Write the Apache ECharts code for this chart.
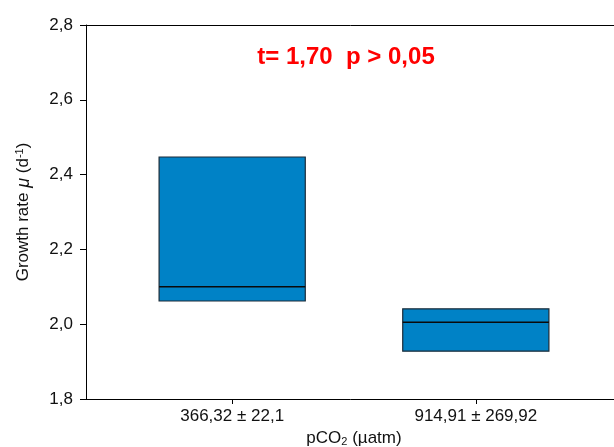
<!DOCTYPE html>
<html>
<head>
<meta charset="utf-8">
<script src="https://cdn.jsdelivr.net/npm/echarts@6/dist/echarts.min.js"></script>
<style>html,body{margin:0;padding:0;background:#fff}#c{width:614px;height:447px}</style>
</head>
<body>
<div id="c"></div>
<script>
var categories = ['366,32 ± 22,1', '914,91 ± 269,92'];
var positions = [1, 2];
var q1Values = [2.062, 1.928];
var medianValues = [2.100, 2.005];
var q3Values = [2.447, 2.041];
var yTicks = [1.8, 2.0, 2.2, 2.4, 2.6, 2.8];
var annotation = 't= 1,70  p > 0,05';

var FONT = '"Liberation Sans", Arial, sans-serif';
var boxData = positions.map(function (p, i) {
  return [p, q1Values[i], medianValues[i], q3Values[i]];
});

var chart = echarts.init(document.getElementById('c'), null, {renderer: 'canvas'});
chart.setOption({
  animation: false,
  backgroundColor: '#ffffff',
  grid: {left: 86, right: -8, top: 25, bottom: 48, containLabel: false, outerBoundsMode: 'none'},
  xAxis: [{
    type: 'value', min: 0.4, max: 2.6, interval: 0.2,
    splitLine: {show: false},
    axisLine: {show: true, onZero: false, lineStyle: {color: '#000', width: 1}},
    axisTick: {show: true, length: 5, customValues: positions, lineStyle: {color: '#000'}},
    axisLabel: {
      show: true, customValues: positions, margin: 9,
      fontFamily: FONT, fontSize: 17, color: '#111',
      formatter: function (v) {
        var i = positions.indexOf(Math.round(v));
        return i >= 0 ? categories[i] : '';
      }
    },
    name: '{t|pCO}{s|2}{t| (µatm)}',
    nameLocation: 'middle', nameGap: 28,
    nameTextStyle: {
      fontFamily: FONT, fontSize: 17, color: '#111',
      rich: {
        t: {fontFamily: FONT, fontSize: 17, color: '#111'},
        s: {fontFamily: FONT, fontSize: 11, color: '#111', verticalAlign: 'bottom', padding: [8, 0, 0, 0]}
      }
    }
  }, {
    type: 'value', position: 'top', min: 0.4, max: 2.6,
    splitLine: {show: false},
    axisLine: {show: true, onZero: false, lineStyle: {color: '#000', width: 1}},
    axisTick: {show: false}, axisLabel: {show: false}
  }],
  yAxis: {
    type: 'value', min: 1.8, max: 2.8, interval: 0.2,
    splitLine: {show: false},
    axisLine: {show: true, onZero: false, lineStyle: {color: '#000', width: 1}},
    axisTick: {show: true, length: 6, lineStyle: {color: '#000'}},
    axisLabel: {
      margin: 13, fontFamily: FONT, fontSize: 17, color: '#111',
      formatter: function (v) { return v.toFixed(1).replace('.', ','); }
    },
    name: '{t|Growth rate }{m|μ}{t| (d}{s|-1}{t|)}',
    nameLocation: 'middle', nameGap: 53, nameRotate: 90,
    nameTextStyle: {
      fontFamily: FONT, fontSize: 17, color: '#111',
      rich: {
        t: {fontFamily: FONT, fontSize: 17, color: '#111'},
        m: {fontFamily: FONT, fontSize: 18, fontStyle: 'italic', color: '#111'},
        s: {fontFamily: FONT, fontSize: 11, color: '#111', verticalAlign: 'top', padding: [0, 0, 8, 0]}
      }
    }
  },
  series: [{
    type: 'custom',
    xAxisIndex: 0,
    data: boxData,
    encode: {x: 0, y: [1, 2, 3]},
    renderItem: function (params, api) {
      var x = api.value(0);
      var half = 0.3;
      var pTop = api.coord([x - half, api.value(3)]);
      var pBot = api.coord([x + half, api.value(1)]);
      var pMedL = api.coord([x - half, api.value(2)]);
      var pMedR = api.coord([x + half, api.value(2)]);
      return {
        type: 'group',
        children: [{
          type: 'rect',
          shape: {x: pTop[0], y: pTop[1], width: pBot[0] - pTop[0], height: pBot[1] - pTop[1]},
          style: {fill: '#0082C6', stroke: '#1c2b38', lineWidth: 1.2}
        }, {
          type: 'line',
          shape: {x1: pMedL[0], y1: pMedL[1], x2: pMedR[0], y2: pMedR[1]},
          style: {stroke: '#0a0a0a', lineWidth: 1.5}
        }]
      };
    }
  }],
  graphic: [{
    type: 'text', x: 346, y: 57,
    style: {
      text: annotation,
      align: 'center', verticalAlign: 'middle',
      fontFamily: FONT, fontSize: 24, fontWeight: 'bold', fill: '#ff0000'
    }
  }]
});
</script>
</body>
</html>
